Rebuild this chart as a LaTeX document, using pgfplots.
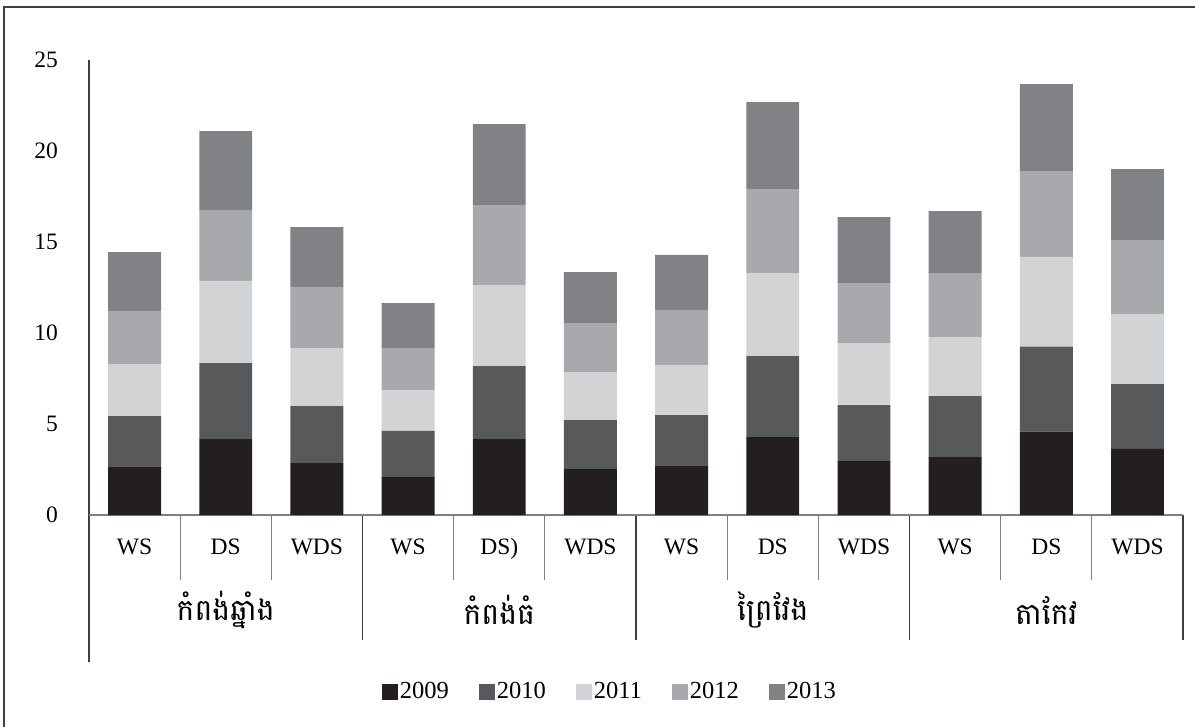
\documentclass[border=0pt]{standalone}
\usepackage{pgfplots}
\pgfplotsset{compat=1.18}
\usepackage{pgfplotstable}
\usepackage{fontspec}
\setmainfont{Liberation Serif}
\newfontfamily\khmer[Script=Khmer]{Battambang}

\definecolor{c09}{HTML}{231F20}
\definecolor{c10}{HTML}{58595B}
\definecolor{c11}{HTML}{D1D3D4}
\definecolor{c12}{HTML}{A7A9AC}
\definecolor{c13}{HTML}{808285}

\pgfplotsset{sqlegend/.style={legend image code/.code={\fill[##1] (0bp,-3.8bp) rectangle (8bp,4.2bp);}}}

% one row per bar: WS, DS, WDS for each province
\pgfplotstableread{
x  y09  y10  y11  y12  y13
0  2.64 2.80 2.86 2.90 3.25
1  4.18 4.17 4.52 3.89 4.34
2  2.86 3.13 3.19 3.35 3.29
3  2.09 2.53 2.25 2.31 2.47
4  4.18 4.01 4.45 4.39 4.45
5  2.53 2.69 2.64 2.69 2.80
6  2.69 2.80 2.75 3.02 3.03
7  4.29 4.45 4.56 4.61 4.78
8  2.97 3.07 3.41 3.30 3.62
9  3.19 3.35 3.24 3.52 3.40
10 4.58 4.67 4.93 4.72 4.78
11 3.64 3.56 3.84 4.07 3.90
}\data

\begin{document}
\begin{tikzpicture}
\begin{axis}[
  scale only axis,
  width=547bp, height=227.5bp,
  xmin=-0.5, xmax=11.5, ymin=0, ymax=25,
  enlarge x limits=false, enlarge y limits=false,
  ybar stacked, bar width=0.58,
  clip=false,
  axis line style={draw=none},
  tick style={draw=none},
  xtick={0,...,11},
  xticklabels={WS,DS,WDS,WS,DS),WDS,WS,DS,WDS,WS,DS,WDS},
  ytick={0,5,...,25},
  xticklabel style={anchor=base, yshift=-19.5bp},
  yticklabel style={xshift=-12bp},
  every tick label/.append style={font=\fontsize{11.8}{13}\selectfont},
  /pgf/number format/assume math mode=true,
  legend style={draw=none, at={(0.477,-0.389)}, anchor=center,
    legend columns=-1, font=\fontsize{12.3}{14}\selectfont,
    /tikz/every odd column/.append style={column sep=-1bp},
    /tikz/every even column/.append style={column sep=13bp}},
]
\addplot[fill=c09, draw=none, sqlegend] table[x=x, y=y09] {\data};
\addplot[fill=c10, draw=none, sqlegend] table[x=x, y=y10] {\data};
\addplot[fill=c11, draw=none, sqlegend] table[x=x, y=y11] {\data};
\addplot[fill=c12, draw=none, sqlegend] table[x=x, y=y12] {\data};
\addplot[fill=c13, draw=none, sqlegend] table[x=x, y=y13] {\data};
\legend{2009,2010,2011,2012,2013}

% axis lines and category separators
\draw[gray, line width=0.6bp] (axis cs:-0.5,0) -- (axis cs:11.5,0);
\pgfplotsinvokeforeach{0.5,1.5,3.5,4.5,6.5,7.5,9.5,10.5}{
  \draw[gray, line width=0.6bp] (axis cs:#1,0) -- (axis cs:#1,-3.57);
}
\pgfplotsinvokeforeach{2.5,5.5,8.5,11.5}{
  \draw[black!75, line width=0.6bp] (axis cs:#1,0) -- (axis cs:#1,-6.87);
}
\draw[black!75, line width=0.6bp] (axis cs:-0.5,25) -- (axis cs:-0.5,-8.08);

% province names
\node[font=\khmer\fontsize{15}{18}\selectfont] at (axis cs:1,-5.22) {កំពង់ឆ្នាំង};
\node[font=\khmer\fontsize{15}{18}\selectfont] at (axis cs:4,-5.22) {កំពង់ធំ};
\node[font=\khmer\fontsize{15}{18}\selectfont] at (axis cs:7,-5.22) {ព្រៃវែង};
\node[font=\khmer\fontsize{15}{18}\selectfont] at (axis cs:10,-5.22) {តាកែវ};

% outer frame (cut at right and bottom)
\draw[black!75, line width=1bp] (axis cs:-1.432,-11.65) -- (axis cs:-1.432,27.91) -- (axis cs:11.631,27.91);
\coordinate (bbsw) at (axis cs:-1.476,-11.65);
\coordinate (bbne) at (axis cs:11.631,28.30);
\end{axis}
\pgfresetboundingbox
\path[use as bounding box] (bbsw) rectangle (bbne);
\end{tikzpicture}
\end{document}
